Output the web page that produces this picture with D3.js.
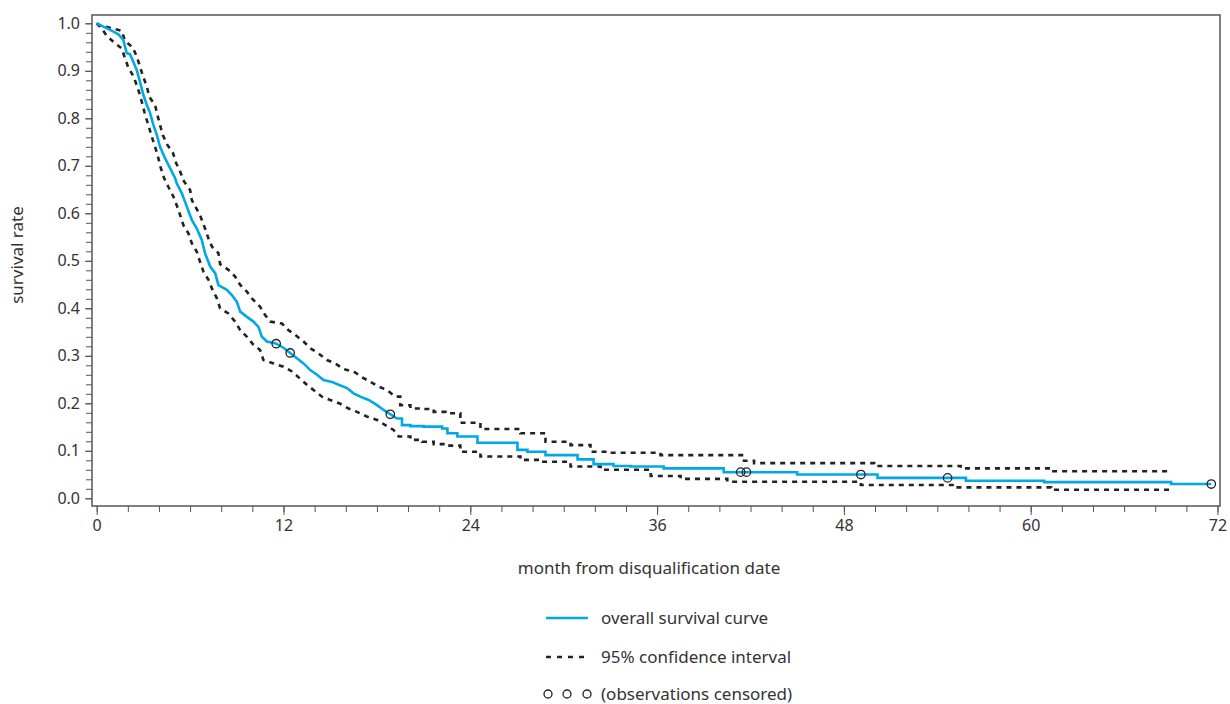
<!DOCTYPE html>
<html>
<head>
<meta charset="utf-8">
<script src="https://cdn.jsdelivr.net/npm/d3@7"></script>
<style>
  body { margin: 0; background: #fff; }
  text { font-family: "Noto Sans", "Open Sans", sans-serif; fill: #333; }
</style>
</head>
<body>
<div id="chart"></div>
<script>
// survival curve (month, rate)
var survMonths = [0, 0.86, 1.39, 1.71, 1.93, 2.14, 2.35, 2.57, 2.78, 3.0, 3.22, 3.43, 3.64, 3.86, 4.07, 4.39, 4.71, 5.04, 5.14,
    5.47, 5.79, 6.11, 6.43, 6.75, 6.96, 7.29, 7.61, 7.82, 8.36, 8.68, 9.0, 9.22, 9.65, 10.07, 10.39, 10.61, 10.93, 11.5, 12.0,
    12.86, 13.29, 13.72, 14.15, 14.57, 15.11, 15.54, 16.08, 16.5, 16.93, 17.47, 18.01, 18.43, 19.29, 19.61, 20.15, 21.0,
    22.19, 22.53, 23.17, 24.46, 27.03, 27.67, 28.83, 30.89, 31.92, 33.2, 34.3, 36.42, 40.28, 45.0, 50.16, 55.84, 60.87, 69.02, 71.6];
var survRate = [1.0, 0.986, 0.977, 0.965, 0.937, 0.935, 0.919, 0.902, 0.877, 0.849, 0.828, 0.811, 0.786, 0.765, 0.74, 0.716, 0.695, 0.674, 0.663,
    0.642, 0.614, 0.586, 0.568, 0.544, 0.516, 0.488, 0.474, 0.449, 0.439, 0.428, 0.414, 0.393, 0.382, 0.372, 0.361, 0.34, 0.33, 0.326, 0.317,
    0.295, 0.284, 0.27, 0.26, 0.249, 0.245, 0.239, 0.232, 0.221, 0.214, 0.207, 0.196, 0.186, 0.168, 0.154, 0.152, 0.151,
    0.147, 0.137, 0.13, 0.117, 0.102, 0.098, 0.091, 0.082, 0.072, 0.068, 0.067, 0.063, 0.055, 0.05, 0.043, 0.037, 0.034, 0.03, 0.03];

// 95% confidence interval
var upperMonths = [0, 0.21, 1.61, 1.82, 2.32, 2.57, 2.78, 2.98, 3.22, 3.38, 3.75, 3.9, 4.24, 4.54, 4.89, 5.1, 5.36, 5.61, 6.0, 6.11,
    6.64, 6.96, 7.18, 7.4, 7.82, 7.93, 8.46, 8.89, 9.22, 9.65, 9.97, 10.5, 10.82, 11.14, 11.9, 12.32, 12.75, 13.29, 13.72, 14.25,
    14.79, 15.32, 15.86, 16.5, 17.04, 17.58, 18.11, 18.65, 19.18, 19.5, 20.15, 21.0, 21.65, 22.4, 23.36, 24.65, 27.22, 28.83,
    30.44, 31.72, 33.01, 36.22, 41.58, 42.23, 49.94, 55.5, 61.31, 69.02];
var upperRate = [1.0, 0.996, 0.984, 0.963, 0.949, 0.93, 0.909, 0.888, 0.867, 0.845, 0.828, 0.807, 0.765, 0.744, 0.728, 0.706, 0.688, 0.667, 0.649, 0.628,
    0.596, 0.568, 0.547, 0.53, 0.516, 0.493, 0.481, 0.467, 0.449, 0.435, 0.421, 0.403, 0.386, 0.372, 0.368, 0.354, 0.344, 0.33, 0.316, 0.305,
    0.291, 0.284, 0.272, 0.267, 0.255, 0.245, 0.235, 0.228, 0.214, 0.196, 0.189, 0.188, 0.182, 0.179, 0.159, 0.146, 0.137, 0.119,
    0.112, 0.098, 0.096, 0.091, 0.079, 0.074, 0.068, 0.063, 0.057, 0.057];
var lowerMonths = [0, 0.32, 0.64, 1.07, 1.61, 1.82, 2.03, 2.35, 2.57, 2.78, 2.96, 3.11, 3.32, 3.54, 3.75, 3.96, 4.12, 4.33, 4.6, 4.93,
    5.14, 5.36, 5.57, 5.89, 6.11, 6.43, 6.64, 6.86, 7.18, 7.4, 7.72, 7.93, 8.46, 8.89, 9.22, 9.65, 10.07, 10.5, 10.71, 11.36, 12.0,
    12.54, 13.03, 13.5, 13.93, 14.47, 15.0, 15.65, 16.18, 16.72, 17.36, 18.01, 18.54, 19.07, 19.4, 20.15, 20.9, 21.65, 22.4, 23.36,
    24.65, 27.22, 28.51, 30.44, 32.37, 35.59, 37.51, 40.51, 49.09, 55.09, 61.31, 69.02];
var lowerRate = [1.0, 0.989, 0.974, 0.961, 0.947, 0.926, 0.907, 0.889, 0.87, 0.849, 0.827, 0.807, 0.786, 0.761, 0.74, 0.716, 0.695, 0.674, 0.656, 0.635,
    0.617, 0.596, 0.575, 0.558, 0.537, 0.519, 0.498, 0.477, 0.46, 0.442, 0.421, 0.4, 0.389, 0.372, 0.354, 0.34, 0.323, 0.312, 0.291, 0.284, 0.277,
    0.267, 0.253, 0.239, 0.228, 0.214, 0.207, 0.199, 0.189, 0.182, 0.172, 0.165, 0.154, 0.144, 0.13, 0.123, 0.119, 0.114, 0.111, 0.098,
    0.088, 0.081, 0.077, 0.067, 0.06, 0.047, 0.041, 0.035, 0.028, 0.023, 0.018, 0.016];

// censored observations (month)
var censored = [11.53, 12.43, 18.86, 41.37, 41.74, 49.09, 54.66, 71.6];

var xTicks = [0, 12, 24, 36, 48, 60, 72];
var yTicks = [0, 0.1, 0.2, 0.3, 0.4, 0.5, 0.6, 0.7, 0.8, 0.9, 1.0];

var legendLabels = ["overall survival curve", "95% confidence interval", "(observations censored)"];

var width = 1230, height = 704;
var blue = "#00a9e6", dark = "#222", axisCol = "#555";
var frame = { left: 92, top: 15, right: 1220, bottom: 506 };
var stepFrom = 19.45; // early part: many tiny steps, drawn straight; later plateaus drawn as steps

var svg = d3.select("#chart").append("svg")
    .attr("width", width)
    .attr("height", height);

var x = d3.scaleLinear().domain([0, 72]).range([96.7, 1217.5]);
var y = d3.scaleLinear().domain([0, 1]).range([498.3, 23.3]);

// build path points; after stepFrom each value holds until the next time
function pts(ms, rs) {
    var out = [];
    ms.forEach(function(m, i) {
        if (i > 0 && m > stepFrom) out.push([m, rs[i - 1]]);
        out.push([m, rs[i]]);
    });
    return out;
}
var line = d3.line()
    .x(function(d) { return x(d[0]); })
    .y(function(d) { return y(d[1]); });

// curve value at time t
function survAt(t) {
    var p = pts(survMonths, survRate);
    for (var i = 1; i < p.length; i++) {
        if (p[i][0] >= t) {
            var a = p[i - 1], b = p[i];
            if (b[0] === a[0]) return a[1];
            return a[1] + (b[1] - a[1]) * (t - a[0]) / (b[0] - a[0]);
        }
    }
    return p[p.length - 1][1];
}

function styleTicks(g) {
    g.select(".domain").remove();
    g.selectAll("line").attr("stroke", axisCol);
    g.selectAll("text").attr("font-size", 16).attr("fill", "#333")
        .style("font-family", '"Noto Sans", sans-serif');
}

// y axis: major + minor ticks
var yMinor = d3.range(0, 1.001, 0.02);
svg.append("g")
    .attr("transform", "translate(" + frame.left + ",0)")
    .call(d3.axisLeft(y).tickValues(yMinor).tickSize(6).tickFormat(""))
    .call(styleTicks);
svg.append("g")
    .attr("transform", "translate(" + frame.left + ",0)")
    .call(d3.axisLeft(y).tickValues(yTicks).tickSize(7).tickPadding(5).tickFormat(d3.format(".1f")))
    .call(styleTicks);

// x axis
var xMinor = d3.range(0, 73, 2);
svg.append("g")
    .attr("transform", "translate(0," + frame.bottom + ")")
    .call(d3.axisBottom(x).tickValues(xMinor).tickSize(6).tickFormat(""))
    .call(styleTicks);
svg.append("g")
    .attr("transform", "translate(0," + frame.bottom + ")")
    .call(d3.axisBottom(x).tickValues(xTicks).tickSize(9).tickPadding(5).tickFormat(d3.format("d")))
    .call(styleTicks);

// frame
svg.append("rect")
    .attr("x", frame.left)
    .attr("y", frame.top)
    .attr("width", frame.right - frame.left)
    .attr("height", frame.bottom - frame.top)
    .attr("fill", "none")
    .attr("stroke", axisCol)
    .attr("stroke-width", 1.5);

// confidence bands
[pts(upperMonths, upperRate), pts(lowerMonths, lowerRate)].forEach(function(d) {
    svg.append("path")
        .datum(d)
        .attr("d", line)
        .attr("fill", "none")
        .attr("stroke", dark)
        .attr("stroke-width", 2.6)
        .attr("stroke-dasharray", "5,5");
});

// survival curve
svg.append("path")
    .datum(pts(survMonths, survRate))
    .attr("d", line)
    .attr("fill", "none")
    .attr("stroke", blue)
    .attr("stroke-width", 2.6);

// censor marks
svg.selectAll("circle.censor")
    .data(censored)
    .enter()
    .append("circle")
    .attr("class", "censor")
    .attr("cx", function(d) { return x(d); })
    .attr("cy", function(d) { return y(survAt(d)); })
    .attr("r", 4.2)
    .attr("fill", "none")
    .attr("stroke", "#222")
    .attr("stroke-width", 1.3);

// axis titles
svg.append("text")
    .attr("x", 649)
    .attr("y", 574)
    .attr("text-anchor", "middle")
    .attr("font-size", 17)
    .text("month from disqualification date");
svg.append("text")
    .attr("transform", "translate(23,255) rotate(-90)")
    .attr("text-anchor", "middle")
    .attr("font-size", 17)
    .text("survival rate");

// legend
var leg = svg.append("g");
var legY = [618, 657, 694];
leg.append("line")
    .attr("x1", 546).attr("x2", 588).attr("y1", legY[0]).attr("y2", legY[0])
    .attr("stroke", blue).attr("stroke-width", 2.6);
leg.append("line")
    .attr("x1", 546).attr("x2", 590).attr("y1", legY[1]).attr("y2", legY[1])
    .attr("stroke", dark).attr("stroke-width", 2.6).attr("stroke-dasharray", "5,6");
leg.selectAll("circle")
    .data([548, 567, 587])
    .enter()
    .append("circle")
    .attr("cx", function(d) { return d; })
    .attr("cy", legY[2])
    .attr("r", 4)
    .attr("fill", "none")
    .attr("stroke", "#222")
    .attr("stroke-width", 1.3);
leg.selectAll("text")
    .data(legendLabels)
    .enter()
    .append("text")
    .attr("x", 601)
    .attr("y", function(d, i) { return legY[i]; })
    .attr("dy", "0.35em")
    .attr("font-size", 17)
    .text(function(d) { return d; });
</script>
</body>
</html>
